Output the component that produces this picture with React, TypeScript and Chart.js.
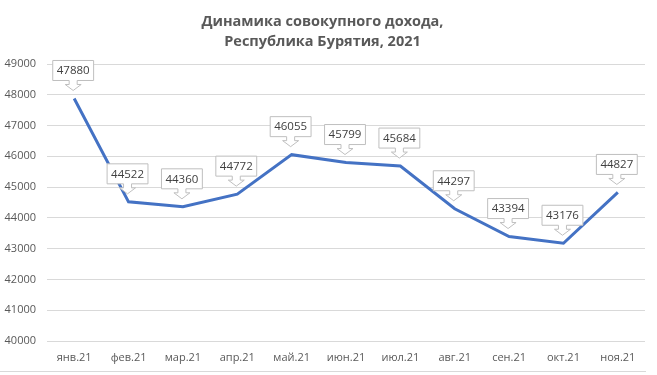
import React, { useEffect, useRef } from "react";
import { Chart, registerables } from "chart.js";

Chart.register(...registerables);

const titleLines = ["Динамика совокупного дохода,", "Республика Бурятия, 2021"];
const categories = ["янв.21", "фев.21", "мар.21", "апр.21", "май.21", "июн.21", "июл.21", "авг.21", "сен.21", "окт.21", "ноя.21"];
const incomeValues = [47880, 44522, 44360, 44772, 46055, 45799, 45684, 44297, 43394, 43176, 44827];
const yMin = 40000;
const yMax = 49000;
const yStep = 1000;

const FONT = "'Open Sans', 'Noto Sans', sans-serif";

const calloutPlugin = {
  id: "callouts",
  afterDatasetsDraw(chart: any) {
    const ctx = chart.ctx;
    const meta = chart.getDatasetMeta(0);
    const ds = chart.data.datasets[0];
    ctx.save();
    ctx.font = `11.5px ${FONT}`;
    ctx.textAlign = "center";
    ctx.textBaseline = "middle";
    meta.data.forEach((pt: any, i: number) => {
      const text = String(ds.data[i]);
      const w = ctx.measureText(text).width + 8;
      const h = 20;
      const cx = pt.x - 1;
      const bottom = pt.y - 18;
      const top = bottom - h;
      const left = cx - w / 2;
      const right = cx + w / 2;
      ctx.beginPath();
      ctx.moveTo(left, top);
      ctx.lineTo(right, top);
      ctx.lineTo(right, bottom);
      ctx.lineTo(cx + 4, bottom);
      ctx.lineTo(cx + 4, bottom + 4);
      ctx.lineTo(cx + 8, bottom + 4);
      ctx.lineTo(cx, bottom + 10);
      ctx.lineTo(cx - 8, bottom + 4);
      ctx.lineTo(cx - 4, bottom + 4);
      ctx.lineTo(cx - 4, bottom);
      ctx.lineTo(left, bottom);
      ctx.closePath();
      ctx.fillStyle = "#ffffff";
      ctx.fill();
      ctx.strokeStyle = "#bfbfbf";
      ctx.lineWidth = 1;
      ctx.stroke();
      ctx.fillStyle = "#404040";
      ctx.fillText(text, cx, top + h / 2 + 0.5);
    });
    ctx.restore();
  },
  afterDraw(chart: any) {
    const ctx = chart.ctx;
    ctx.save();
    ctx.strokeStyle = "#d9d9d9";
    ctx.lineWidth = 1;
    ctx.beginPath();
    ctx.moveTo(0, 371.5);
    ctx.lineTo(646, 371.5);
    ctx.stroke();
    ctx.restore();
  },
};

export default function App() {
  const ref = useRef<HTMLCanvasElement | null>(null);
  useEffect(() => {
    document.body.style.margin = "0";
    if (!ref.current) return;
    const chart = new Chart(ref.current, {
      type: "line",
      data: {
        labels: categories,
        datasets: [
          {
            data: incomeValues,
            borderColor: "#4472C4",
            borderWidth: 3,
            pointRadius: 0,
            tension: 0,
            fill: false,
          },
        ],
      },
      options: {
        animation: false,
        responsive: false,
        maintainAspectRatio: false,
        layout: { padding: { top: 0, right: 12, bottom: 0, left: 0 } },
        plugins: {
          legend: { display: false },
          tooltip: { enabled: false },
          title: {
            display: true,
            text: titleLines,
            color: "#595959",
            font: { family: FONT, size: 14.5, weight: "bold", lineHeight: 1.38 },
            padding: { top: 12, bottom: 12 },
          },
        },
        scales: {
          x: {
            offset: true,
            grid: { display: false, drawTicks: false },
            border: { display: false },
            ticks: { color: "#595959", font: { family: FONT, size: 11 }, padding: 10, maxRotation: 0, autoSkip: false },
            afterFit: (s: any) => { s.height = 34; },
          },
          y: {
            min: yMin,
            max: yMax,
            grid: { color: "#d9d9d9", drawTicks: false },
            border: { display: false },
            ticks: {
              stepSize: yStep,
              color: "#595959",
              font: { family: FONT, size: 11 },
              padding: 11,
              callback: (v: any) => String(v),
            },
            afterFit: (s: any) => { s.width = 47; },
          },
        },
      },
      plugins: [calloutPlugin],
    });
    return () => chart.destroy();
  }, []);
  return (
    <div style={{ width: 657, height: 375 }}>
      <canvas ref={ref} width={657} height={375} style={{ display: "block" }} />
    </div>
  );
}
